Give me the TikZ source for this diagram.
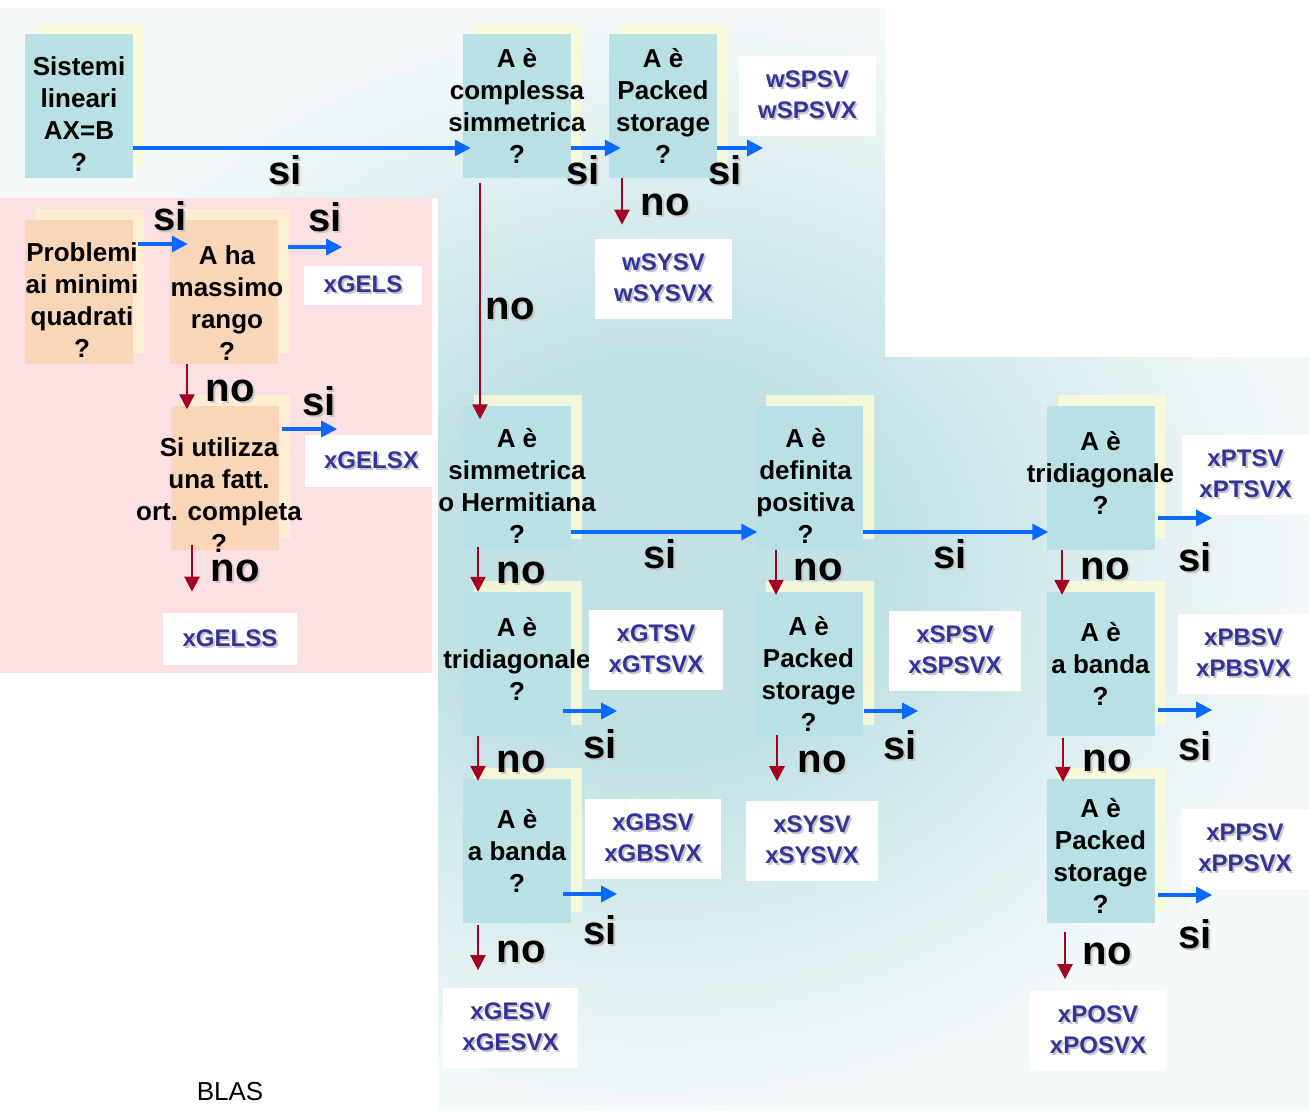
\documentclass[tikz,border=0pt]{standalone}
\usepackage{fontspec}
\setmainfont{Liberation Sans}
\usetikzlibrary{arrows.meta,shadows}

\definecolor{qfill}{RGB}{185,224,228}
\definecolor{qshade}{RGB}{252,252,212}
\definecolor{lfill}{RGB}{250,214,185}
\definecolor{lshade}{RGB}{255,238,212}
\definecolor{pinkbg}{RGB}{253,224,225}
\definecolor{panelmid}{RGB}{193,225,229}
\definecolor{panelpale}{RGB}{244,249,250}
\definecolor{yescol}{RGB}{10,105,255}
\definecolor{nocol}{RGB}{165,0,33}
\definecolor{fncol}{RGB}{51,51,153}

\pgfdeclareradialshading{panelglow}{\pgfpoint{0bp}{0bp}}{color(0bp)=(panelmid);
  color(9bp)=(panelmid); color(25bp)=(panelpale); color(50bp)=(panelpale)}

\tikzset{
  qbox/.style={fill=qfill,minimum width=108pt,minimum height=144pt,inner sep=0pt,
    general shadow={shadow xshift=11pt,shadow yshift=11pt,fill=qshade,fill opacity=0.8}},
  lbox/.style={fill=lfill,minimum width=108pt,minimum height=144pt,inner sep=0pt,
    general shadow={shadow xshift=11pt,shadow yshift=11pt,fill=lshade}},
  qtext/.style={font=\bfseries\fontsize{26}{32}\selectfont,align=center,inner sep=0pt},
  fn/.style 2 args={fill=white,text=fncol,font=\bfseries\fontsize{24}{31}\selectfont,
    align=center,inner sep=0pt,minimum width=#1pt,minimum height=#2pt},
}

% text with a soft grey shadow
\newcommand{\shtext}[1]{\makebox[0pt][l]{\hspace{2pt}\raisebox{-2pt}{\textcolor{black!22}{#1}}}#1}
\newcommand{\fnpair}[2]{\shtext{#1}\\\shtext{#2}}

% decision box: style, name, position, text shift, text
\newcommand{\question}[5]{
  \node[#1,label={[qtext,#4]center:#5}] (#2) at (#3) {};
}

\begin{document}
\begin{tikzpicture}[
  x=1pt,y=-1pt,
  yesarrow/.style={draw=yescol,line width=3.3pt,-{Triangle[length=16pt,width=16pt]}},
  noarrow/.style={draw=nocol,line width=2.3pt,-{Triangle[length=15pt,width=15pt]}},
  ans/.style={font=\bfseries\fontsize{40}{40}\selectfont,inner sep=0pt},
  ]
  \useasboundingbox (0,0) rectangle (1309,1111);
  \fill[white] (0,0) rectangle (1309,1111);
  % panels
  \shade[shading=panelglow]
    (0,8) -- (885,8) -- (885,357) -- (1309,357) -- (1309,1111)
    -- (438,1111) -- (438,198) -- (0,198) -- cycle;
  \fill[pinkbg] (0,198) rectangle (432,673);

  % questions
  \question{qbox}{sys}{79,105.5}{yshift=-9pt}{Sistemi\\lineari\\AX=B\\?}
  \question{qbox}{cs}{517,105.5}{}{A è\\complessa\\simmetrica\\?}
  \question{qbox}{cps}{663,105.5}{}{A è\\Packed\\storage\\?}
  \question{lbox}{lsq}{79,292}{xshift=3pt,yshift=-8pt}{Problemi\\ai minimi\\quadrati\\?}
  \question{lbox}{rank}{224,292}{xshift=3pt,yshift=-11pt}{A ha\\massimo\\rango\\?}
  \question{lbox}{ort}{225,477.5}{xshift=-6pt,yshift=-18pt}{Si utilizza\\una fatt.\\ort. completa\\?}
  \question{qbox}{herm}{517,477.5}{yshift=-8pt}{A è\\simmetrica\\o Hermitiana\\?}
  \question{qbox}{gt}{517,664}{yshift=5pt}{A è\\tridiagonale\\?}
  \question{qbox}{gb}{517,851}{}{A è\\a banda\\?}
  \question{qbox}{pd}{808.5,477.5}{xshift=-3pt,yshift=-8pt}{A è\\definita\\positiva\\?}
  \question{qbox}{sp}{808.5,664}{yshift=-10pt}{A è\\Packed\\storage\\?}
  \question{qbox}{pt}{1100.5,477.5}{yshift=5pt}{A è\\tridiagonale\\?}
  \question{qbox}{pb}{1100.5,664}{}{A è\\a banda\\?}
  \question{qbox}{pp}{1100.5,850.5}{yshift=-5pt}{A è\\Packed\\storage\\?}

  % routines
  \node[fn={137}{80}] (wspsv) at (807.5,96) {\fnpair{wSPSV}{wSPSVX}};
  \node[fn={137}{80}] (wsysv) at (663.5,279) {\fnpair{wSYSV}{wSYSVX}};
  \node[fn={118}{39}] (xgels) at (363,285.5) {\shtext{xGELS}};
  \node[fn={133}{52}] (xgelsx) at (371.5,461) {\shtext{xGELSX}};
  \node[fn={134}{52}] (xgelss) at (230,639) {\shtext{xGELSS}};
  \node[fn={134}{80}] (xgtsv) at (656,650) {\fnpair{xGTSV}{xGTSVX}};
  \node[fn={136}{80}] (xgbsv) at (653,839) {\fnpair{xGBSV}{xGBSVX}};
  \node[fn={135}{80}] (xgesv) at (510.5,1028) {\fnpair{xGESV}{xGESVX}};
  \node[fn={132}{80}] (xspsv) at (955,651) {\fnpair{xSPSV}{xSPSVX}};
  \node[fn={132}{80}] (xsysv) at (812,840.5) {\fnpair{xSYSV}{xSYSVX}};
  \node[fn={127}{80}] (xptsv) at (1245.5,474.5) {\fnpair{xPTSV}{xPTSVX}};
  \node[fn={131}{80}] (xpbsv) at (1243.5,653.5) {\fnpair{xPBSV}{xPBSVX}};
  \node[fn={128}{80}] (xppsv) at (1245,848.5) {\fnpair{xPPSV}{xPPSVX}};
  \node[fn={136}{80}] (xposv) at (1098,1031) {\fnpair{xPOSV}{xPOSVX}};

  % top row
  \draw[yesarrow] ([yshift=-42.5pt]sys.east) -- ([xshift=8pt,yshift=-42.5pt]cs.west);
  \draw[yesarrow] ([yshift=-42.5pt]cs.east) -- ([xshift=12pt,yshift=-42.5pt]cps.west);
  \draw[yesarrow] ([yshift=-42.5pt]cps.east) -- ++(46,0);
  \draw[noarrow] ([xshift=-41pt]cps.south) -- ++(0,47);
  \draw[noarrow] ([xshift=-37pt,yshift=-5pt]cs.south) -- ([xshift=-37pt,yshift=-14pt]cs.south |- herm.north);
  % least squares
  \draw[yesarrow] ([xshift=5pt,yshift=48pt]lsq.east) -- ([xshift=18pt,yshift=48pt]rank.west);
  \draw[yesarrow] ([xshift=10pt,yshift=45pt]rank.east) -- ++(54,0);
  \draw[noarrow] ([xshift=-37pt]rank.south) -- ([xshift=-37pt,yshift=-4pt]rank.south |- ort.north);
  \draw[yesarrow] ([xshift=3pt,yshift=48.5pt]ort.east) -- ++(55,0);
  \draw[noarrow] ([xshift=-33pt,yshift=5pt]ort.south) -- ++(0,47);
  % general / symmetric / positive definite
  \draw[yesarrow] ([yshift=-54.5pt]herm.east) -- ([xshift=3pt,yshift=-54.5pt]herm.east -| pd.west);
  \draw[yesarrow] ([yshift=-54.5pt]pd.east) -- ([xshift=2pt,yshift=-54.5pt]pd.east -| pt.west);
  \draw[noarrow] ([xshift=-39pt,yshift=3pt]herm.south) -- ([xshift=-39pt]herm.south |- gt.north);
  \draw[yesarrow] ([xshift=-8pt,yshift=-47pt]gt.east) -- ++(54,0);
  \draw[noarrow] ([xshift=-39pt]gt.south) -- ([xshift=-39pt,yshift=-2pt]gt.south |- gb.north);
  \draw[yesarrow] ([xshift=-8pt,yshift=-43pt]gb.east) -- ++(54,0);
  \draw[noarrow] ([xshift=-39pt,yshift=-2pt]gb.south) -- ++(0,45);
  \draw[noarrow] ([xshift=-32.5pt]pd.south) -- ([xshift=-32.5pt,yshift=-3pt]pd.south |- sp.north);
  \draw[yesarrow] ([xshift=1.5pt,yshift=-47pt]sp.east) -- ++(54,0);
  \draw[noarrow] ([xshift=-31.5pt,yshift=1pt]sp.south) -- ++(0,46);
  \draw[yesarrow] ([xshift=3.5pt,yshift=-40.5pt]pt.east) -- ++(54,0);
  \draw[noarrow] ([xshift=-38.5pt]pt.south) -- ([xshift=-38.5pt,yshift=-3pt]pt.south |- pb.north);
  \draw[yesarrow] ([xshift=3.5pt,yshift=-46pt]pb.east) -- ++(54,0);
  \draw[noarrow] ([xshift=-37.5pt,yshift=-2pt]pb.south) -- ([xshift=-37.5pt,yshift=-3.5pt]pb.south |- pp.north);
  \draw[yesarrow] ([xshift=3.5pt,yshift=-44.5pt]pp.east) -- ++(54,0);
  \draw[noarrow] ([xshift=-35.5pt,yshift=-9.5pt]pp.south) -- ++(0,47);

  % answers
  \foreach \x/\y/\t [count=\i] in {285/171/si,583/171/si,725/171/si,665/206/no,510/310/no,
    170/217/si,325/218/si,230/392/no,319/402/si,235/572/no,
    660/555/si,950/555/si,521/574/no,818/571/no,1105/570/no,1195/558/si,
    600/745/si,521/763/no,900/746/si,822/763/no,1195/747/si,1107/762/no,
    600/931/si,521/953/no,1195/935/si,1107/955/no}
    \node[ans] (ans\i) at (\x,\y) {\shtext{\t}};

  \node[font=\fontsize{26}{30}\selectfont,inner sep=0pt] (blas) at (230,1092) {BLAS};
\end{tikzpicture}
\end{document}
